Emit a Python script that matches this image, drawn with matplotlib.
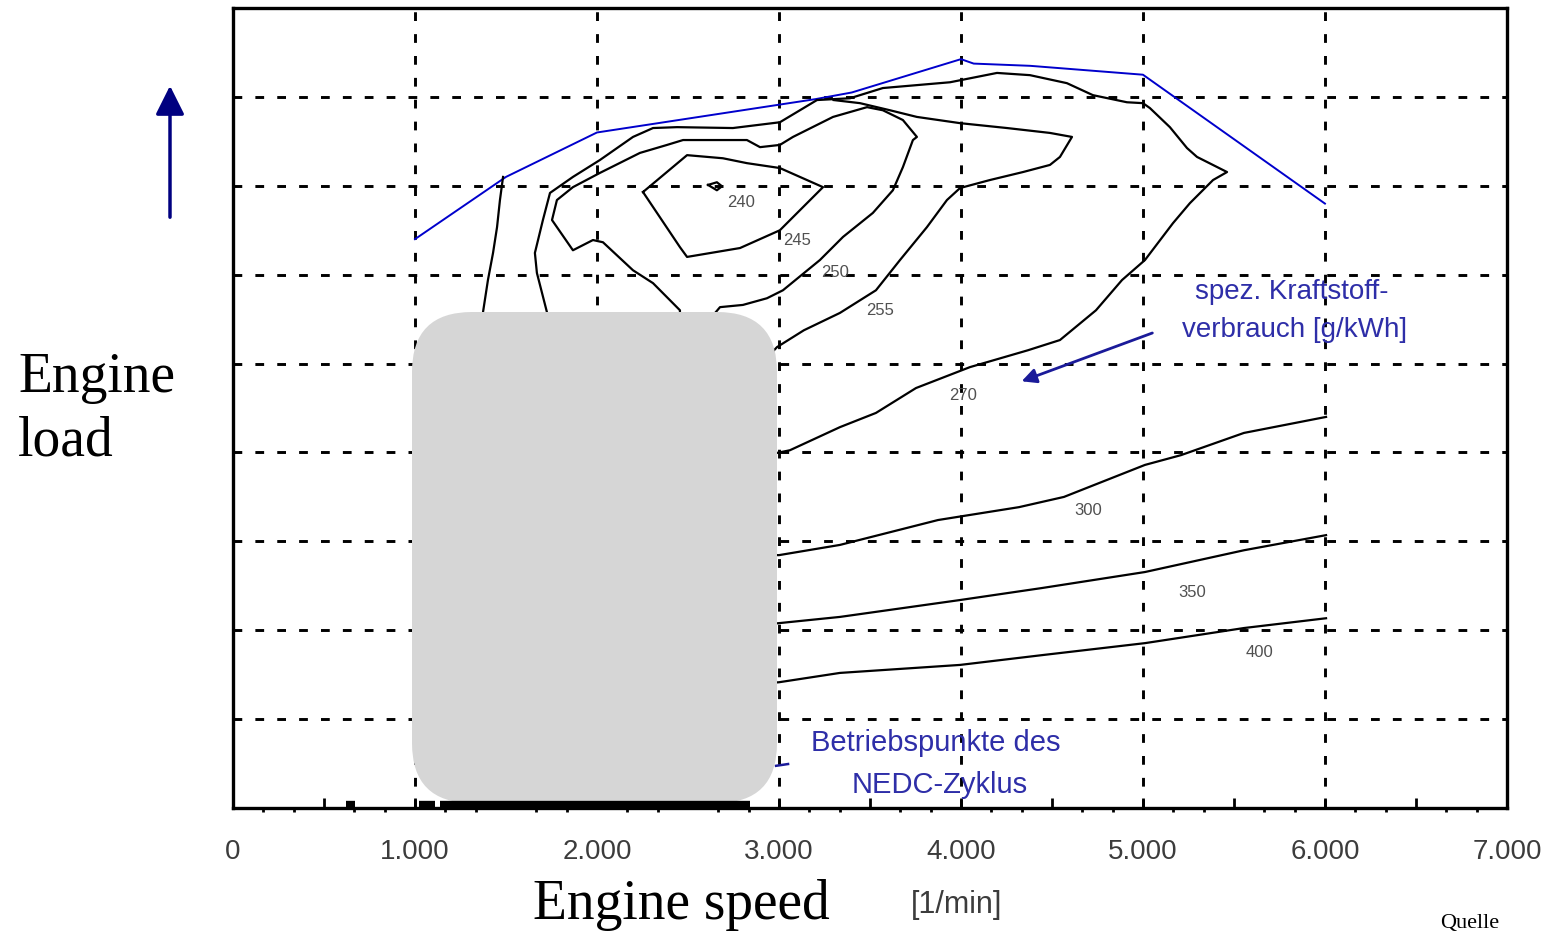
import matplotlib
matplotlib.use("Agg")
import matplotlib.pyplot as plt
from matplotlib.patches import FancyBboxPatch
from matplotlib.transforms import IdentityTransform
from matplotlib.ticker import MultipleLocator, FuncFormatter

# ---- data (speed in 1/min, load in bar) ----
full_rpm = [1000, 1500, 2000, 3200, 3400, 4000, 4070, 4380, 5000, 6000]
full_bar = [12.8, 14.2, 15.2, 15.95, 16.1, 16.85, 16.75, 16.7, 16.5, 13.6]

c240_rpm = [2610, 2659, 2687, 2659, 2610]
c240_bar = [14.02, 14.08, 13.99, 13.90, 14.02]

c245_rpm = [2253, 2495, 2692, 2824, 3005, 3242, 3005, 2786, 2495, 2456, 2253]
c245_bar = [13.86, 14.69, 14.62, 14.51, 14.40, 13.97, 13.00, 12.60, 12.40, 12.62, 13.86]

c250_rpm = [2456, 2456, 2308, 2198, 2033, 1978, 1868, 1753, 1780, 1868, 2016, 2236,
            2385, 2473, 2824, 2896, 3005, 3077, 3297, 3484, 3571, 3681, 3758, 3736,
            3681, 3626, 3516, 3352, 3225, 3022, 2934, 2802, 2676, 2600]
c250_bar = [10.5, 11.20, 11.81, 12.10, 12.73, 12.78, 12.55, 13.23, 13.68, 13.97, 14.29,
            14.74, 14.92, 15.03, 15.03, 14.87, 14.92, 15.10, 15.55, 15.77, 15.70, 15.48,
            15.10, 15.03, 14.42, 13.90, 13.39, 12.85, 12.33, 11.65, 11.47, 11.32, 11.27, 10.9]

c255_rpm = [2950, 2989, 3137, 3335, 3533, 3665, 3813, 3923, 3995, 4159, 4341, 4489,
            4544, 4610, 4489, 4253, 3995, 3758, 3610, 3445, 3300]
c255_bar = [10.2, 10.37, 10.75, 11.14, 11.65, 12.33, 13.07, 13.68, 13.95, 14.13, 14.31,
            14.47, 14.65, 15.10, 15.19, 15.30, 15.41, 15.55, 15.70, 15.86, 15.93]

c270_rpm = [1725, 1725, 1670, 1659, 1703, 1742, 1868, 2016, 2198, 2308, 2440, 2747,
            3005, 3209, 3390, 3571, 3940, 4198, 4379, 4582, 4725, 4912, 5000, 5038,
            5148, 5242, 5297, 5462, 5385, 5258, 5165, 5011, 4885, 4742, 4544, 4368,
            4049, 3753, 3533, 3335, 3060, 2989, 2900]
c270_bar = [10.6, 11.16, 12.04, 12.49, 13.23, 13.84, 14.20, 14.58, 15.10, 15.30, 15.32,
            15.30, 15.43, 15.93, 15.97, 16.20, 16.33, 16.54, 16.49, 16.31, 16.04, 15.88,
            15.86, 15.75, 15.32, 14.85, 14.65, 14.31, 14.13, 13.61, 13.16, 12.33, 11.88,
            11.20, 10.53, 10.30, 9.92, 9.45, 8.89, 8.57, 8.05, 7.99, 7.9]

c280_rpm = [1484, 1467, 1451, 1429, 1401, 1374, 1370]
c280_bar = [14.20, 13.68, 13.07, 12.49, 11.88, 11.16, 10.7]

c300_rpm = [2900, 3000, 3335, 3874, 4319, 4566, 5011, 5209, 5555, 6006]
c300_bar = [5.7, 5.69, 5.92, 6.48, 6.77, 7.00, 7.72, 7.94, 8.44, 8.80]

c350_rpm = [2900, 3000, 3335, 3995, 4445, 5011, 5555, 6006]
c350_bar = [4.12, 4.16, 4.30, 4.68, 4.95, 5.31, 5.80, 6.14]

c400_rpm = [2900, 3000, 3335, 3995, 4445, 5011, 5555, 6006]
c400_bar = [2.8, 2.83, 3.04, 3.22, 3.44, 3.71, 4.05, 4.27]

label_text = ["240", "245", "250", "255", "270", "300", "350", "400"]
label_rpm = [2791, 3099, 3308, 3555, 4011, 4698, 5269, 5643]
label_bar = [13.63, 12.78, 12.06, 11.20, 9.29, 6.70, 4.86, 3.49]

# NEDC operating points at the bottom (speed ranges at ~zero load)
nedc_start = [620, 1020, 1140]
nedc_end = [670, 1110, 2840]

grid_rpm = [1000, 2000, 3000, 4000, 5000, 6000]
grid_bar = [2, 4, 6, 8, 10, 12, 14, 16]

BLUE_TXT = '#2e2ea8'

fig = plt.figure(figsize=(15.51, 9.35), dpi=100)
ax = fig.add_axes([0.1502, 0.1358, 0.8214, 0.8556])
ax.set_xlim(0, 7000)
ax.set_ylim(0, 18)

for g in grid_rpm:
    ax.axvline(g, color='black', lw=2.1, ls=(0, (3, 4.5)), zorder=1)
for g in grid_bar:
    ax.axhline(g, color='black', lw=2.1, ls=(0, (3, 4.5)), zorder=1)

ax.plot(full_rpm, full_bar, color='#0000cc', lw=1.4, zorder=3)
for xs, ys in [(c240_rpm, c240_bar), (c245_rpm, c245_bar), (c250_rpm, c250_bar),
               (c255_rpm, c255_bar), (c270_rpm, c270_bar), (c280_rpm, c280_bar),
               (c300_rpm, c300_bar), (c350_rpm, c350_bar), (c400_rpm, c400_bar)]:
    ax.plot(xs, ys, color='black', lw=1.6, zorder=3)

for t, x, y in zip(label_text, label_rpm, label_bar):
    ax.text(x, y, t, fontsize=12, color='#505050', ha='center', va='center',
            family='Liberation Sans', zorder=4)

ax.text(5819, 11.61, "spez. Kraftstoff-", color=BLUE_TXT, fontsize=20,
        ha='center', va='center', family='Liberation Sans')
ax.text(5835, 10.75, "verbrauch [g/kWh]", color=BLUE_TXT, fontsize=20,
        ha='center', va='center', family='Liberation Sans')
ax.annotate('', xy=(4319, 9.58), xytext=(5066, 10.71),
            arrowprops=dict(arrowstyle='-|>', color='#1a1a99', lw=2, mutation_scale=22))

ax.text(3863, 1.46, "Betriebspunkte des", color=BLUE_TXT, fontsize=21,
        ha='center', va='center', family='Liberation Sans')
ax.text(3885, 0.52, "NEDC-Zyklus", color=BLUE_TXT, fontsize=21,
        ha='center', va='center', family='Liberation Sans')
ax.plot([2984, 3050], [0.95, 0.99], color='#1a1a99', lw=1.8, zorder=3)

# grey cover box (drawn in pixel coords)
box = FancyBboxPatch((412, 132), 365, 491, boxstyle="round,pad=0,rounding_size=60",
                     transform=IdentityTransform(), fc='#d6d6d6', ec='none',
                     zorder=6, clip_on=False)
ax.add_patch(box)
ax.hlines([0.06] * len(nedc_start), nedc_start, nedc_end, color='black', lw=6,
          zorder=7, clip_on=False)

for s in ax.spines.values():
    s.set_linewidth(2.4)
    s.set_zorder(8)

ax.xaxis.set_major_locator(MultipleLocator(500))
ax.xaxis.set_minor_locator(MultipleLocator(1000 / 6))
ax.xaxis.set_major_formatter(FuncFormatter(
    lambda v, p: '' if int(round(v)) % 1000 else
    ('0' if v == 0 else f'{int(round(v)):,}'.replace(',', '.'))))
ax.tick_params(axis='x', which='major', direction='in', length=7, width=2,
               pad=22, labelsize=20, labelcolor='#3c3c3c')
ax.tick_params(axis='x', which='minor', direction='out', length=3, width=2)
for lab in ax.get_xticklabels():
    lab.set_family('Liberation Sans')
ax.set_yticks([])

fig.text(533 / 1551, 1 - 905 / 935, "Engine speed", fontsize=40,
         family='Liberation Serif', ha='left', va='center')
fig.text(957 / 1551, 1 - 905 / 935, "[1/min]", fontsize=22,
         family='Liberation Sans', color='#3c3c3c', ha='center', va='center')
fig.text(18 / 1551, 1 - 410 / 935, "Engine\nload", fontsize=40,
         family='Liberation Serif', ha='left', va='center', linespacing=1.28)
fig.text(1440 / 1551, 1 - 933 / 935, "Quelle", fontsize=16,
         family='Liberation Serif', ha='left', va='bottom')

# upward arrow left of the chart
fig.add_artist(plt.Annotation('', xy=(170 / 1551, 1 - 83 / 935),
                              xytext=(170 / 1551, 1 - 220 / 935),
                              xycoords='figure fraction',
                              arrowprops=dict(arrowstyle='-|>', color='#000080',
                                              lw=2.5, mutation_scale=44)))

fig.savefig('out.png', dpi=100)
